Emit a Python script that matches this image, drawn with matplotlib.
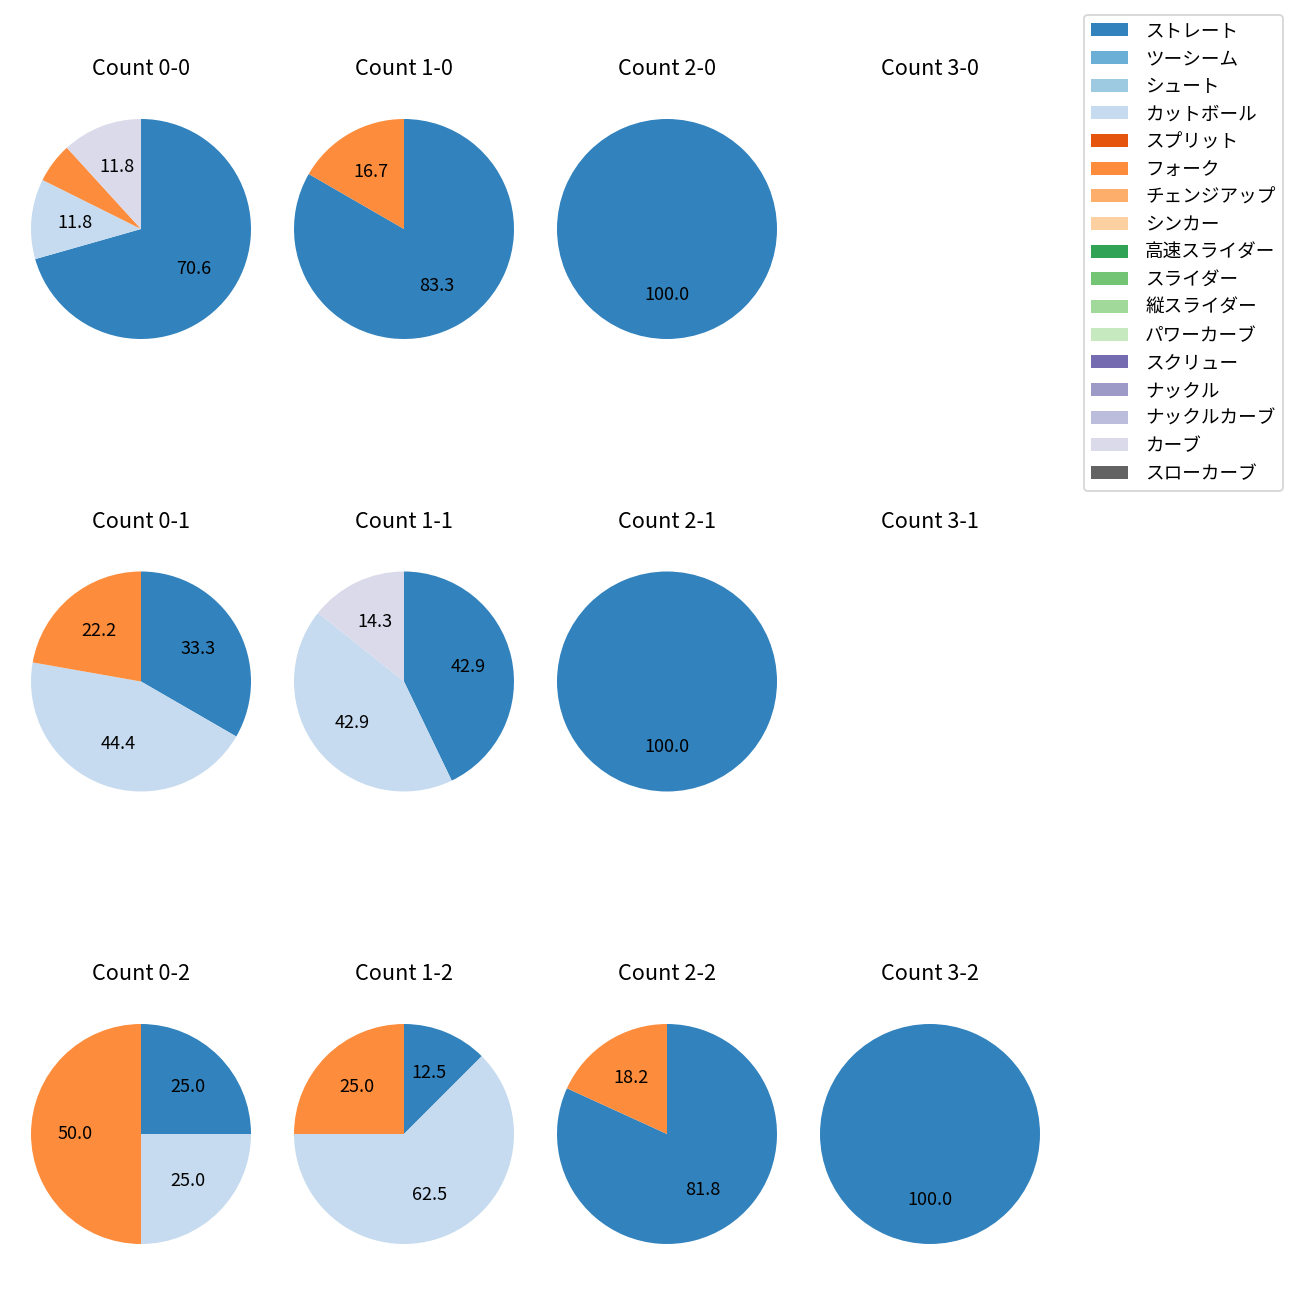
import matplotlib
matplotlib.use('Agg')
import matplotlib.pyplot as plt
from matplotlib.patches import Patch
import numpy as np

plt.rcParams['font.family'] = ['Noto Sans CJK JP', 'DejaVu Sans']

# ----- data --------------------------------------------------------
pitch_types = ['ストレート', 'ツーシーム', 'シュート', 'カットボール', 'スプリット',
               'フォーク', 'チェンジアップ', 'シンカー', '高速スライダー', 'スライダー',
               '縦スライダー', 'パワーカーブ', 'スクリュー', 'ナックル', 'ナックルカーブ',
               'カーブ', 'スローカーブ']

balls = [0, 1, 2, 3]
strikes = [0, 1, 2]

# pitches thrown per count (balls-strikes), read back from the shown percentages
count_0_0 = {'ストレート': 12, 'カットボール': 2, 'フォーク': 1, 'カーブ': 2}
count_1_0 = {'ストレート': 5, 'フォーク': 1}
count_2_0 = {'ストレート': 1}
count_3_0 = {}
count_0_1 = {'ストレート': 3, 'カットボール': 4, 'フォーク': 2}
count_1_1 = {'ストレート': 3, 'カットボール': 3, 'カーブ': 1}
count_2_1 = {'ストレート': 1}
count_3_1 = {}
count_0_2 = {'ストレート': 1, 'カットボール': 1, 'フォーク': 2}
count_1_2 = {'ストレート': 1, 'カットボール': 5, 'フォーク': 2}
count_2_2 = {'ストレート': 9, 'フォーク': 2}
count_3_2 = {'ストレート': 1}

counts = {(0, 0): count_0_0, (1, 0): count_1_0, (2, 0): count_2_0, (3, 0): count_3_0,
          (0, 1): count_0_1, (1, 1): count_1_1, (2, 1): count_2_1, (3, 1): count_3_1,
          (0, 2): count_0_2, (1, 2): count_1_2, (2, 2): count_2_2, (3, 2): count_3_2}

cmap = plt.get_cmap('tab20c')
colors = {p: cmap(i) for i, p in enumerate(pitch_types)}


def pct_label(p):
    return '{:.1f}'.format(p) if p >= 10 else ''


# ----- plot --------------------------------------------------------
W = 1300.0
fig, axes = plt.subplots(3, 4, figsize=(10, 10), dpi=130)

size = 275.0
for s in strikes:
    for b in balls:
        ax = axes[s, b]
        cx = 141 + 263 * b
        cy = 229 + 452.5 * s
        ax.set_position([(cx - size / 2) / W, 1 - (cy + size / 2) / W, size / W, size / W])
        data = counts[(b, s)]
        ax.set_title('Count {}-{}'.format(b, s), fontsize=12, pad=9)
        if len(data) == 0:
            ax.axis('off')
            continue
        names = [p for p in pitch_types if p in data]
        vals = [data[p] for p in names]
        ax.pie(vals, colors=[colors[p] for p in names], startangle=90,
               counterclock=False, autopct=pct_label,
               textprops={'fontsize': 10})

handles = [Patch(facecolor=colors[p], label=p) for p in pitch_types]
fig.legend(handles=handles, loc='upper right', bbox_to_anchor=(1283 / W, 1 - 15 / W),
           borderaxespad=0, fontsize=10.3, handletextpad=0.9, labelspacing=0.52)

fig.savefig('out.png')
